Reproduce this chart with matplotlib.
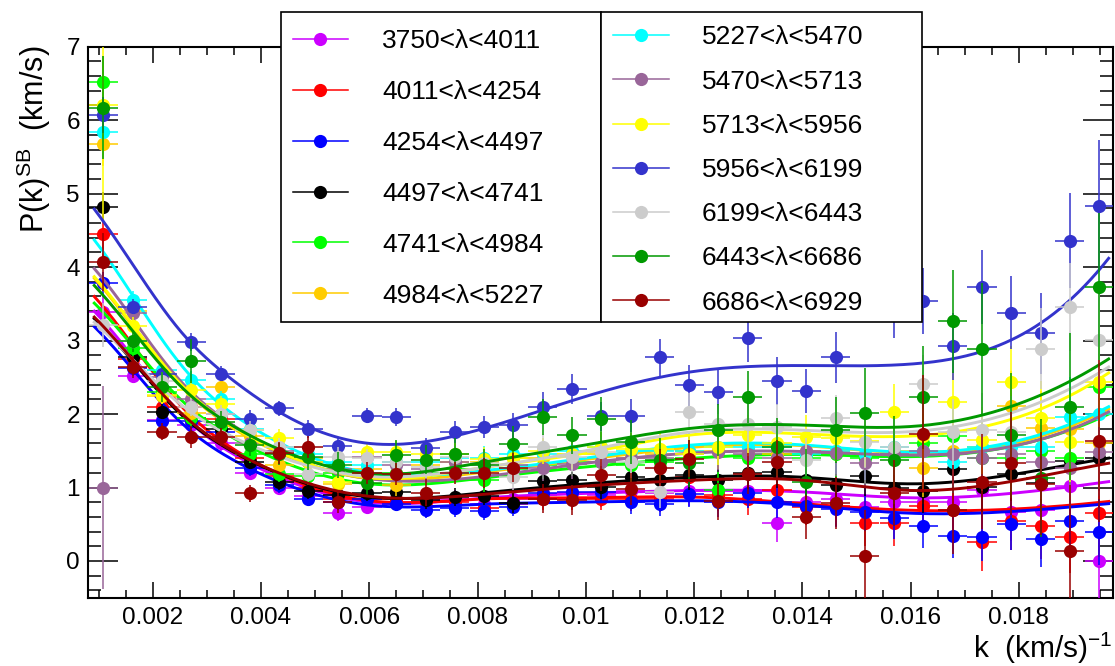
import numpy as np
import matplotlib
matplotlib.use("Agg")
import matplotlib.pyplot as plt
from matplotlib.lines import Line2D
from matplotlib.patches import Rectangle
from matplotlib.ticker import MultipleLocator, FuncFormatter

plt.rcParams['font.family'] = ['Liberation Sans', 'DejaVu Sans']
plt.rcParams['mathtext.fontset'] = 'custom'
plt.rcParams['mathtext.rm'] = 'Liberation Sans'
plt.rcParams['mathtext.it'] = 'Liberation Sans:italic'

# ---------------- data ----------------
k_bins = [0.001090, 0.001631, 0.002172, 0.002713, 0.003254, 0.003795, 0.004336,
          0.004877, 0.005418, 0.005959, 0.006500, 0.007041, 0.007582, 0.008123,
          0.008664, 0.009205, 0.009746, 0.010287, 0.010828, 0.011369, 0.011910,
          0.012451, 0.012992, 0.013533, 0.014074, 0.014615, 0.015156, 0.015697,
          0.016238, 0.016779, 0.017320, 0.017861, 0.018402, 0.018943, 0.019484]
k_halfwidth = 0.00027

labels = ["3750<λ<4011", "4011<λ<4254", "4254<λ<4497", "4497<λ<4741",
          "4741<λ<4984", "4984<λ<5227", "5227<λ<5470", "5470<λ<5713",
          "5713<λ<5956", "5956<λ<6199", "6199<λ<6443", "6443<λ<6686",
          "6686<λ<6929"]
colors = ['#CC00FF', '#FF0000', '#0000FF', '#000000', '#00FF00', '#FFCC00',
          '#00FFFF', '#996699', '#FFFF00', '#3333CC', '#CCCCCC', '#009900',
          '#990000']

p_3750 = [3.39, 2.52, 1.92, 1.85, 1.60, 1.20, 1.00, 0.88, 0.65, 0.74, 0.80, 0.85, 0.85, 0.78, 0.85, 0.90, 0.92, 0.90,
          0.95, 0.92, 0.95, 0.95, 0.95, 0.51, 0.80, 0.85, 0.74, 0.80, 0.80, 0.80, 0.96, 0.67, 0.69, 1.02, 0.00]
p_4011 = [4.45, 2.75, 2.10, 2.10, 1.93, 1.40, 1.15, 1.00, 0.85, 0.85, 0.85, 0.80, 0.80, 0.72, 0.78, 0.85, 0.85, 0.85,
          0.85, 0.85, 1.14, 0.90, 0.85, 0.97, 0.74, 0.75, 0.51, 0.51, 0.75, 0.70, 0.26, 0.55, 0.47, 0.33, 0.65]
p_4254 = [3.78, 2.62, 1.90, 1.90, 1.75, 1.26, 1.03, 0.85, 0.80, 0.85, 0.78, 0.70, 0.72, 0.68, 0.74, 0.92, 0.94, 0.94,
          0.80, 0.78, 0.91, 0.80, 0.92, 0.80, 0.75, 0.71, 0.66, 0.58, 0.47, 0.34, 0.33, 0.50, 0.30, 0.55, 0.40]
p_4497 = [4.82, 2.78, 2.03, 1.95, 1.80, 1.35, 1.07, 0.95, 0.90, 0.92, 0.94, 0.83, 0.87, 0.89, 0.79, 1.09, 1.10, 1.01,
          1.14, 1.10, 1.17, 1.10, 1.20, 1.21, 1.10, 1.04, 1.16, 1.00, 0.95, 1.25, 1.01, 1.19, 1.06, 1.36, 1.40]
p_4741 = [6.52, 2.90, 2.30, 1.94, 1.85, 1.46, 1.19, 1.15, 1.20, 1.20, 1.20, 1.20, 1.25, 1.10, 1.25, 1.30, 1.35, 1.35,
          1.30, 1.35, 1.40, 0.96, 1.40, 1.45, 1.40, 1.45, 1.40, 1.45, 1.60, 1.70, 1.40, 1.40, 1.50, 1.40, 2.37]
p_4984 = [5.67, 3.40, 2.25, 2.01, 2.37, 1.70, 1.30, 1.40, 1.05, 1.25, 1.03, 1.30, 1.35, 1.35, 1.40, 1.40, 1.45, 1.45,
          1.40, 1.45, 1.50, 1.50, 1.50, 1.45, 1.50, 1.50, 1.45, 1.50, 1.27, 1.50, 1.55, 2.11, 1.81, 1.80, 1.60]
p_5227 = [5.84, 3.55, 2.60, 2.46, 2.20, 1.80, 1.55, 1.45, 1.35, 1.30, 1.35, 1.35, 1.40, 1.40, 1.45, 1.45, 1.50, 1.55,
          1.50, 1.50, 1.50, 1.55, 1.55, 1.55, 1.45, 1.50, 1.45, 1.55, 1.50, 1.35, 1.55, 1.55, 1.55, 1.96, 2.00]
p_5470 = [1.00, 3.37, 2.50, 2.20, 2.00, 1.60, 1.50, 1.35, 1.25, 1.42, 1.30, 1.25, 1.35, 1.30, 1.30, 1.27, 1.32, 1.35,
          1.40, 1.40, 1.45, 1.49, 1.45, 1.40, 1.50, 1.47, 1.34, 1.45, 1.50, 1.45, 1.40, 1.45, 1.35, 1.26, 1.48]
p_5713 = [6.21, 3.20, 2.26, 2.33, 2.13, 1.78, 1.68, 1.35, 1.08, 1.49, 1.49, 1.45, 1.46, 1.39, 1.40, 1.50, 1.45, 1.55,
          1.52, 1.52, 1.45, 1.55, 1.71, 1.60, 1.69, 1.67, 1.63, 2.03, 1.70, 2.16, 1.64, 2.44, 1.95, 1.62, 2.43]
p_5956 = [6.07, 3.46, 2.55, 2.98, 2.55, 1.93, 2.08, 1.80, 1.57, 1.98, 1.96, 1.54, 1.76, 1.83, 1.85, 2.10, 2.34, 1.97,
          1.98, 2.77, 2.39, 2.30, 3.04, 2.45, 2.31, 2.77, 3.95, 3.55, 3.54, 2.92, 3.73, 3.38, 3.10, 4.36, 4.83]
p_6199 = [3.21, 3.00, 2.45, 2.10, 2.00, 1.78, 1.55, 1.19, 1.42, 1.40, 1.35, 1.28, 1.42, 1.33, 1.14, 1.55, 1.41, 1.49,
          1.35, 0.94, 2.03, 1.87, 1.87, 1.83, 1.37, 1.94, 1.62, 1.55, 2.41, 1.76, 1.78, 1.75, 2.89, 3.46, 3.01]
p_6443 = [6.17, 3.00, 2.37, 2.72, 1.89, 1.58, 1.45, 1.42, 1.31, 1.06, 1.44, 1.38, 1.46, 1.30, 1.59, 1.96, 1.71, 1.93,
          1.62, 1.37, 1.33, 1.78, 2.23, 1.55, 1.07, 1.78, 2.02, 1.37, 2.23, 3.26, 2.89, 1.71, 1.13, 2.10, 3.73]
p_6686 = [4.07, 2.64, 1.76, 1.69, 1.69, 0.92, 1.47, 1.55, 0.80, 1.20, 1.19, 0.93, 1.20, 1.20, 1.27, 0.85, 0.83, 1.17,
          0.98, 1.27, 1.39, 0.81, 1.19, 1.35, 0.60, 0.79, 0.07, 0.93, 1.73, 0.70, 1.08, 1.33, 1.05, 0.14, 1.63]

e_3750 = [0.25, 0.10, 0.10, 0.10, 0.10, 0.10, 0.10, 0.10, 0.10, 0.10, 0.12, 0.12, 0.12, 0.13, 0.14, 0.15, 0.15, 0.16,
          0.17, 0.18, 0.20, 0.22, 0.22, 0.25, 0.25, 0.28, 0.30, 0.30, 0.32, 0.35, 0.40, 0.40, 0.45, 0.50, 0.65]
e_4011 = [0.30, 0.10, 0.10, 0.10, 0.10, 0.10, 0.10, 0.10, 0.10, 0.10, 0.12, 0.12, 0.12, 0.13, 0.14, 0.15, 0.15, 0.16,
          0.17, 0.18, 0.20, 0.22, 0.22, 0.25, 0.25, 0.28, 0.30, 0.30, 0.32, 0.35, 0.40, 0.40, 0.45, 0.50, 0.60]
e_4254 = [0.15, 0.10, 0.10, 0.10, 0.10, 0.10, 0.10, 0.10, 0.10, 0.10, 0.10, 0.11, 0.12, 0.12, 0.13, 0.14, 0.15, 0.15,
          0.16, 0.17, 0.18, 0.20, 0.20, 0.22, 0.22, 0.25, 0.25, 0.28, 0.30, 0.30, 0.33, 0.35, 0.38, 0.40, 0.45]
e_4497 = [0.20, 0.10, 0.10, 0.10, 0.10, 0.10, 0.10, 0.10, 0.10, 0.10, 0.11, 0.12, 0.12, 0.13, 0.14, 0.15, 0.15, 0.16,
          0.17, 0.18, 0.20, 0.20, 0.22, 0.22, 0.25, 0.25, 0.28, 0.30, 0.30, 0.32, 0.35, 0.38, 0.40, 0.42, 0.45]
e_4741 = [0.35, 0.12, 0.12, 0.12, 0.12, 0.12, 0.12, 0.12, 0.13, 0.13, 0.14, 0.15, 0.15, 0.16, 0.17, 0.18, 0.20, 0.20,
          0.22, 0.22, 0.25, 0.25, 0.28, 0.30, 0.30, 0.32, 0.35, 0.38, 0.40, 0.42, 0.45, 0.48, 0.50, 0.55, 0.60]
e_4984 = [0.30, 0.12, 0.12, 0.12, 0.12, 0.12, 0.12, 0.12, 0.13, 0.13, 0.14, 0.15, 0.15, 0.16, 0.17, 0.18, 0.20, 0.20,
          0.22, 0.22, 0.25, 0.25, 0.28, 0.30, 0.30, 0.32, 0.35, 0.38, 0.40, 0.42, 0.45, 0.48, 0.50, 0.55, 0.60]
e_5227 = [0.35, 0.12, 0.12, 0.12, 0.12, 0.12, 0.12, 0.12, 0.13, 0.13, 0.14, 0.15, 0.15, 0.16, 0.17, 0.18, 0.20, 0.20,
          0.22, 0.22, 0.25, 0.25, 0.28, 0.30, 0.30, 0.32, 0.35, 0.38, 0.40, 0.42, 0.45, 0.48, 0.50, 0.55, 0.60]
e_5470 = [1.38, 0.12, 0.12, 0.12, 0.12, 0.12, 0.12, 0.12, 0.13, 0.13, 0.14, 0.15, 0.15, 0.16, 0.17, 0.18, 0.20, 0.20,
          0.22, 0.22, 0.25, 0.25, 0.28, 0.30, 0.30, 0.32, 0.35, 0.38, 0.40, 0.42, 0.45, 0.48, 0.50, 0.55, 0.60]
e_5713 = [1.60, 0.12, 0.12, 0.12, 0.12, 0.12, 0.12, 0.12, 0.13, 0.13, 0.14, 0.15, 0.15, 0.16, 0.17, 0.18, 0.20, 0.20,
          0.22, 0.22, 0.25, 0.25, 0.28, 0.30, 0.30, 0.32, 0.35, 0.38, 0.40, 0.42, 0.45, 0.48, 0.50, 0.55, 0.60]
e_5956 = [0.25, 0.10, 0.10, 0.12, 0.10, 0.12, 0.10, 0.12, 0.12, 0.10, 0.12, 0.13, 0.15, 0.15, 0.17, 0.20, 0.20, 0.20,
          0.22, 0.25, 0.28, 0.30, 0.33, 0.33, 0.30, 0.35, 0.50, 0.52, 0.45, 0.45, 0.50, 0.50, 0.55, 0.65, 0.90]
e_6199 = [0.30, 0.12, 0.12, 0.12, 0.12, 0.12, 0.12, 0.12, 0.13, 0.13, 0.14, 0.15, 0.15, 0.16, 0.17, 0.18, 0.20, 0.20,
          0.22, 0.22, 0.25, 0.25, 0.28, 0.30, 0.30, 0.32, 0.35, 0.38, 0.40, 0.45, 0.50, 0.50, 0.55, 0.60, 0.70]
e_6443 = [0.70, 0.15, 0.20, 0.30, 0.15, 0.15, 0.15, 0.18, 0.18, 0.18, 0.20, 0.20, 0.22, 0.22, 0.25, 0.25, 0.25, 0.30,
          0.30, 0.30, 0.32, 0.35, 0.35, 0.40, 0.45, 0.45, 0.60, 0.60, 0.70, 0.70, 0.90, 0.85, 0.80, 1.00, 1.00]
e_6686 = [0.40, 0.15, 0.12, 0.15, 0.12, 0.12, 0.15, 0.15, 0.15, 0.15, 0.15, 0.18, 0.15, 0.20, 0.20, 0.20, 0.20, 0.22,
          0.22, 0.25, 0.25, 0.25, 0.28, 0.30, 0.30, 0.35, 0.63, 0.45, 0.80, 0.60, 0.65, 0.70, 0.70, 0.90, 1.10]

# fitted curves at these k values
fit_k = [0.00092, 0.0015, 0.0025, 0.0035, 0.0045, 0.006, 0.008, 0.010, 0.012,
         0.014, 0.016, 0.018, 0.01966]
f_3750 = [3.40, 2.90, 2.02, 1.45, 1.09, 0.80, 0.85, 0.92, 0.96, 0.94, 0.86, 0.93, 1.08]
f_4011 = [3.60, 3.07, 2.13, 1.52, 1.13, 0.82, 0.84, 0.86, 0.87, 0.78, 0.69, 0.71, 0.81]
f_4254 = [3.19, 2.72, 1.90, 1.37, 1.03, 0.76, 0.77, 0.80, 0.82, 0.76, 0.65, 0.68, 0.78]
f_4497 = [3.30, 2.83, 2.01, 1.48, 1.14, 0.87, 0.92, 1.05, 1.14, 1.14, 1.05, 1.19, 1.40]
f_4741 = [3.51, 3.04, 2.21, 1.67, 1.32, 1.05, 1.12, 1.28, 1.40, 1.45, 1.42, 1.58, 2.00]
f_4984 = [3.85, 3.32, 2.40, 1.80, 1.42, 1.12, 1.20, 1.38, 1.55, 1.57, 1.47, 1.62, 2.07]
f_5227 = [4.37, 3.76, 2.69, 1.99, 1.55, 1.20, 1.22, 1.40, 1.58, 1.58, 1.48, 1.64, 2.10]
f_5470 = [3.98, 3.43, 2.46, 1.84, 1.43, 1.12, 1.14, 1.33, 1.47, 1.49, 1.44, 1.58, 2.03]
f_5713 = [3.87, 3.34, 2.42, 1.82, 1.43, 1.13, 1.26, 1.47, 1.72, 1.73, 1.70, 1.96, 2.56]
f_5956 = [4.79, 4.18, 3.14, 2.45, 1.96, 1.60, 1.78, 2.24, 2.58, 2.66, 2.68, 3.06, 4.12]
f_6199 = [3.25, 2.84, 2.14, 1.68, 1.38, 1.15, 1.26, 1.50, 1.76, 1.78, 1.76, 2.05, 2.64]
f_6443 = [3.75, 3.25, 2.39, 1.83, 1.47, 1.19, 1.33, 1.58, 1.81, 1.85, 1.83, 2.14, 2.75]
f_6686 = [3.32, 2.85, 2.03, 1.49, 1.15, 0.88, 0.90, 1.02, 1.10, 1.10, 0.96, 1.10, 1.33]

values = [p_3750, p_4011, p_4254, p_4497, p_4741, p_4984, p_5227, p_5470,
          p_5713, p_5956, p_6199, p_6443, p_6686]
errors = [e_3750, e_4011, e_4254, e_4497, e_4741, e_4984, e_5227, e_5470,
          e_5713, e_5956, e_6199, e_6443, e_6686]
fits = [f_3750, f_4011, f_4254, f_4497, f_4741, f_4984, f_5227, f_5470,
        f_5713, f_5956, f_6199, f_6443, f_6686]


def smooth(xa, ya, xs):
    """not-a-knot cubic spline through the read curve values"""
    xa = np.asarray(xa, float); ya = np.asarray(ya, float)
    n = len(xa); h = np.diff(xa)
    A = np.zeros((n, n)); r = np.zeros(n)
    A[0, 0], A[0, 1], A[0, 2] = h[1], -(h[0] + h[1]), h[0]
    A[-1, -3], A[-1, -2], A[-1, -1] = h[-1], -(h[-2] + h[-1]), h[-2]
    for i in range(1, n - 1):
        A[i, i - 1] = h[i - 1]; A[i, i] = 2 * (h[i - 1] + h[i]); A[i, i + 1] = h[i]
        r[i] = 3 * ((ya[i + 1] - ya[i]) / h[i] - (ya[i] - ya[i - 1]) / h[i - 1])
    c = np.linalg.solve(A, r)
    b = (ya[1:] - ya[:-1]) / h - h * (2 * c[:-1] + c[1:]) / 3
    d = (c[1:] - c[:-1]) / (3 * h)
    j = np.clip(np.searchsorted(xa, xs) - 1, 0, n - 2)
    t = xs - xa[j]
    return ya[j] + b[j] * t + c[j] * t ** 2 + d[j] * t ** 3


# ---------------- figure ----------------
W, H = 1115, 666
fig = plt.figure(figsize=(W / 100, H / 100), dpi=100)
ax = fig.add_axes([88.3 / W, 1 - 597.7 / H, (1113 - 88.3) / W, (597.7 - 46.7) / H])

k = np.array(k_bins)
fk = np.array(fit_k) * 1e3
kc = np.linspace(fk[0], fk[-1], 500)
for i, (vals, errs, fv, col) in enumerate(zip(values, errors, fits, colors)):
    z = 3 + 2 * i
    ax.errorbar(k, vals, xerr=k_halfwidth, yerr=errs, fmt='o', color=col, ms=9.5,
                elinewidth=1.1, capsize=0, zorder=z, mew=0)
    ax.plot(kc / 1e3, smooth(fk, fv, kc), color=col, lw=2.1, zorder=z + 1)

ax.set_xlim(0.00081, 0.01974)
ax.set_ylim(-0.5, 7)
ax.xaxis.set_major_locator(MultipleLocator(0.002))
ax.xaxis.set_minor_locator(MultipleLocator(0.0005))
ax.yaxis.set_major_locator(MultipleLocator(1))
ax.yaxis.set_minor_locator(MultipleLocator(0.2))
ax.xaxis.set_major_formatter(FuncFormatter(lambda x, p: ('%g' % round(x, 6)) if x > 1e-9 else ''))
ax.tick_params(which='both', direction='in', top=True, right=True, width=1.1,
               labelsize=17.5, colors='black')
ax.tick_params(axis='x', which='major', length=11.5, pad=7)
ax.tick_params(axis='x', which='minor', length=5.5)
ax.tick_params(axis='y', which='major', length=21.6, pad=6)
ax.tick_params(axis='y', which='minor', length=9.4)
for s in ax.spines.values():
    s.set_linewidth(1.5)

fig.text(34 / W, 1 - 46 / H, 'P(k)$^{\\rm SB}$  (km/s)', rotation=90,
         ha='center', va='top', fontsize=22)
fig.text(1113 / W, 1 - 666 / H, 'k  (km/s)$^{-1}$', ha='right', va='bottom',
         fontsize=21.5)

# ---------------- legends ----------------
for (x0, x1) in [(281, 601), (601, 921.7)]:
    fig.add_artist(Rectangle((x0 / W, 1 - 322 / H), (x1 - x0) / W, 310 / H,
                             transform=fig.transFigure, facecolor='white',
                             edgecolor='black', lw=1.2, zorder=4))

handles = [Line2D([], [], color=c, marker='o', ms=9.5, lw=1.1, mew=0) for c in colors]
leg1 = fig.legend(handles[:6], labels[:6], loc='upper left',
                  bbox_to_anchor=(292.7 / W, 1 - 29 / H), frameon=False,
                  fontsize=19, handlelength=2.1, handletextpad=1.28,
                  labelspacing=1.02, borderpad=0, borderaxespad=0)
leg2 = fig.legend(handles[6:], labels[6:], loc='upper left',
                  bbox_to_anchor=(613.3 / W, 1 - 25.5 / H), frameon=False,
                  fontsize=19, handlelength=2.1, handletextpad=1.25,
                  labelspacing=0.765, borderpad=0, borderaxespad=0)
leg1.set_zorder(5)
leg2.set_zorder(5)

fig.savefig('out.png', dpi=100)
